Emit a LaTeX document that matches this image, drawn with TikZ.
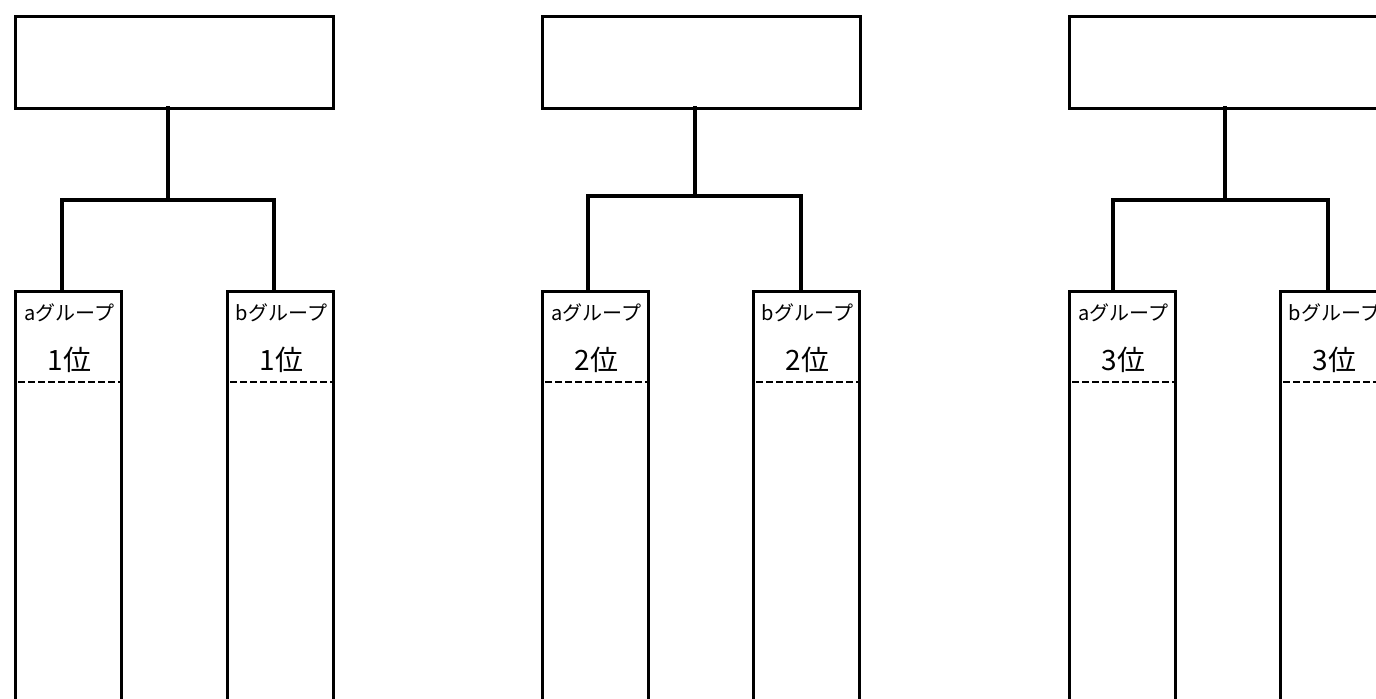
\documentclass[tikz,border=0pt]{standalone}
\usepackage{fontspec}
\newfontfamily\jp{Noto Sans CJK JP}
\usetikzlibrary{calc}
\begin{document}
\begin{tikzpicture}[x=0.5pt,y=-0.5pt,
  topbox/.style={draw=black,line width=1.5pt,fill=white,inner sep=0pt,minimum width=159pt,minimum height=46pt,anchor=north west},
  colbox/.style={draw=black,line width=1.5pt,fill=white,inner sep=0pt,minimum width=53pt,minimum height=220pt,anchor=north west},
  conn/.style={draw=black,line width=2.4pt,line cap=rect,line join=miter},
  dashline/.style={draw=black,line width=1.1pt,dash pattern=on 3.5pt off 1.5pt},
  grp/.style={font=\jp\fontsize{10pt}{12pt}\selectfont,inner sep=0pt},
  rank/.style={font=\jp\fontsize{14pt}{16pt}\selectfont,inner sep=0pt}]
\useasboundingbox (0,0) rectangle (1376,698);
\clip (0,0) rectangle (1376,698);
\fill[white] (0,0) rectangle (1376,698);
\foreach \g/\tx/\sx/\bl/\br/\by/\la/\lb in
  {1/14/168/62/274/200/14/226, 2/541/695/588/801/196/541/752, 3/1068/1225/1113/1328/200/1068/1279}{
  \node[topbox] (t\g) at (\tx,15) {};
  \node[colbox] (ca\g) at (\la,290) {};
  \node[colbox] (cb\g) at (\lb,290) {};
  \coordinate (bl\g) at (\bl,\by);
  \coordinate (br\g) at (\br,\by);
  \coordinate (s\g) at (\sx,108);
  \draw[conn] (s\g) -- (s\g |- bl\g);
  \draw[conn] (bl\g |- ca\g.north) -- (bl\g) -- (br\g) -- (br\g |- cb\g.north);
  \draw[dashline] ($(ca\g.north west)+(4,92)$) -- ($(ca\g.north east)+(0,92)$);
  \draw[dashline] ($(cb\g.north west)+(4,92)$) -- ($(cb\g.north east)+(0,92)$);
  \node[grp] (la\g) at ($(ca\g.north)+(1,23)$) {aグループ};
  \node[grp] (lb\g) at ($(cb\g.north)+(1,23)$) {bグループ};
  \node[rank] (ra\g) at ($(ca\g.north)+(1,70)$) {\g 位};
  \node[rank] (rb\g) at ($(cb\g.north)+(1,70)$) {\g 位};
}
\end{tikzpicture}
\end{document}
